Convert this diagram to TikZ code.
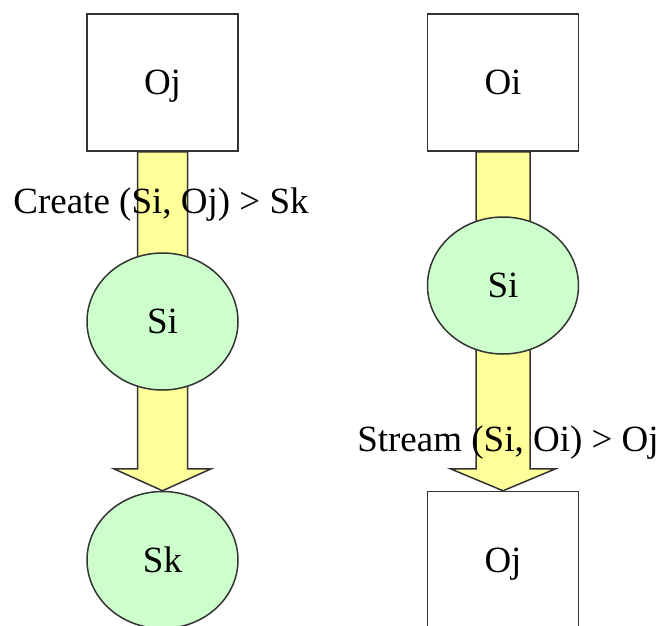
\documentclass[tikz,border=0pt]{standalone}
\usepackage{fontspec}
\setmainfont{Liberation Serif}
\usepackage{tikz}
\usetikzlibrary{shapes, calc, backgrounds}
\definecolor{objgray}{HTML}{333333}
\definecolor{stategreen}{HTML}{CCFFCC}
\definecolor{flowyellow}{HTML}{FFFF99}
\tikzstyle{object} = [rectangle, draw=objgray, line width=1.5pt, fill=white,
    minimum width=151pt, minimum height=137pt, text centered,
    text height=24.4pt, text depth=0pt]
\tikzstyle{state} = [ellipse, draw=objgray, line width=1.5pt, fill=stategreen,
    minimum width=151pt, minimum height=137pt, inner sep=0pt,
    text height=24.4pt, text depth=0pt]
\tikzstyle{op} = [rectangle, inner sep=0pt, text height=24.4pt, text depth=0pt]
\tikzstyle{fat} = [draw=objgray, line width=1.5pt, fill=flowyellow, line join=miter]
% block arrow: from, to, half shaft width
\newcommand{\fatarrow}[3]{%
    \path [fat] ($(#1.south)+(-#3,0)$) -- ($(#2.north)+(-#3,22pt)$)
        -- ($(#2.north)+(-1.95*#3,22pt)$) -- (#2.north)
        -- ($(#2.north)+(1.95*#3,22pt)$) -- ($(#2.north)+(#3,22pt)$)
        -- ($(#1.south)+(#3,0)$) -- cycle;}

\begin{document}
\begin{tikzpicture}[node distance = 239pt, font=\fontsize{37}{44}\selectfont]
        \clip (0,0) rectangle (662pt,-625pt);
        % Place nodes
        \node [object] (oj) at (162.5pt,-82.5pt) {Oj};
        \node [state, below of=oj] (si) {Si};
        \node [state, below of=si, node distance=238.5pt] (sk) {Sk};
        \node [object, right of=oj, node distance=340.5pt] (oi) {Oi};
        \node [state, below of=oi, node distance=203pt] (sitwo) {Si};
        \node [object, below of=sitwo, node distance=274.5pt] (ojout) {Oj};
        % Operation labels
        \node [op, below of=oj, node distance=118.5pt, xshift=-1.5pt] (create) {Create (Si, Oj) > Sk};
        \node [op, below of=sitwo, node distance=153.5pt, xshift=5pt] (stream) {Stream (Si, Oi) > Oj};
        % Draw flows
        \begin{pgfonlayer}{background}
            \fatarrow{oj}{sk}{25pt}
            \fatarrow{oi}{ojout}{27pt}
        \end{pgfonlayer}
    \end{tikzpicture}
\end{document}
